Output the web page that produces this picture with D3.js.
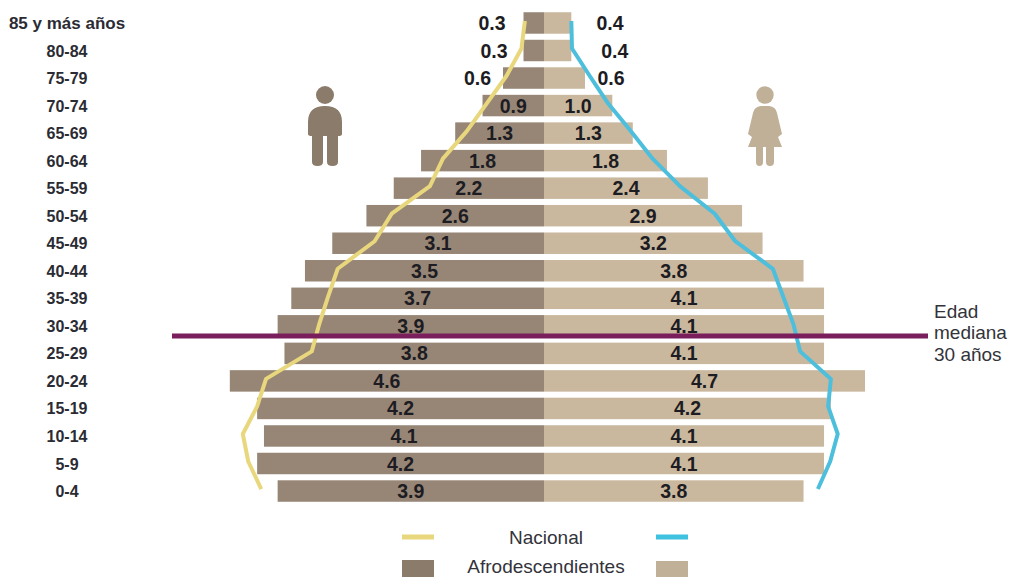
<!DOCTYPE html>
<html><head><meta charset="utf-8">
<script src="https://cdn.jsdelivr.net/npm/d3@7"></script>
<style>html,body{margin:0;background:#fff}svg{display:block}text{font-family:"Liberation Sans",Arial,sans-serif}</style>
</head><body><svg id="c" width="1010" height="577"></svg>
<script>
const ageGroups=["85 y más años","80-84","75-79","70-74","65-69","60-64","55-59","50-54","45-49","40-44","35-39","30-34","25-29","20-24","15-19","10-14","5-9","0-4"];
const afroMen=[0.3,0.3,0.6,0.9,1.3,1.8,2.2,2.6,3.1,3.5,3.7,3.9,3.8,4.6,4.2,4.1,4.2,3.9];
const afroWomen=[0.4,0.4,0.6,1.0,1.3,1.8,2.4,2.9,3.2,3.8,4.1,4.1,4.1,4.7,4.2,4.1,4.1,3.8];
const nationalMen=[0.28,0.33,0.55,0.84,1.13,1.48,1.67,2.23,2.48,3.02,3.16,3.29,3.4,4.07,4.2,4.41,4.33,4.14];
const nationalWomen=[0.40,0.41,0.67,0.94,1.27,1.59,1.99,2.5,2.8,3.35,3.5,3.65,3.75,4.2,4.16,4.3,4.19,4.01];

const svg=d3.select("#c");
const cx=544,k=68.3;
const xL=d3.scaleLinear().domain([0,5]).range([cx,cx-5*k]);
const xR=d3.scaleLinear().domain([0,5]).range([cx,cx+5*k]);
const y=d3.scaleBand().domain(ageGroups).range([9.2,504.8]).paddingInner(.22).paddingOuter(.11);
const mid=a=>y(a)+y.bandwidth()/2;
const DARK="#978676",LIGHT="#c9b89e",ICON_D="#8b7b6b",ICON_L="#bfb097",YEL="#e8d77d",BLUE="#4dbfdc",INK="#1c1c22";

svg.selectAll(".m").data(ageGroups).join("rect").attr("x",(a,i)=>xL(afroMen[i])).attr("y",a=>y(a))
  .attr("width",(a,i)=>cx-xL(afroMen[i])).attr("height",y.bandwidth()).attr("fill",DARK);
svg.selectAll(".w").data(ageGroups).join("rect").attr("x",cx).attr("y",a=>y(a))
  .attr("width",(a,i)=>xR(afroWomen[i])-cx).attr("height",y.bandwidth()).attr("fill",LIGHT);

const outerL=[52,50,66.5],outerR=[66,70.7,67];
svg.selectAll(".ml").data(ageGroups).join("text").attr("text-anchor","middle")
  .attr("x",(a,i)=>i<3?cx-outerL[i]:(xL(afroMen[i])+cx)/2).attr("y",a=>mid(a)+7)
  .attr("font-size",19.5).attr("font-weight","bold").attr("fill",INK).text((a,i)=>afroMen[i].toFixed(1));
svg.selectAll(".wl").data(ageGroups).join("text").attr("text-anchor","middle")
  .attr("x",(a,i)=>i<3?cx+outerR[i]:(xR(afroWomen[i])+cx)/2).attr("y",a=>mid(a)+7)
  .attr("font-size",19.5).attr("font-weight","bold").attr("fill",INK).text((a,i)=>afroWomen[i].toFixed(1));

svg.selectAll(".cat").data(ageGroups).join("text").attr("text-anchor","middle").attr("x",67).attr("y",a=>mid(a)+6)
  .attr("font-size",(a,i)=>i===0?17:16).attr("font-weight","bold").attr("fill","#2b2b33").text(a=>a);

const lineL=d3.line().x((a,i)=>xL(nationalMen[i])).y(a=>mid(a)-2);
const lineR=d3.line().x((a,i)=>xR(nationalWomen[i])).y(a=>mid(a)-2);
svg.append("path").attr("d",lineL(ageGroups)).attr("fill","none").attr("stroke",YEL).attr("stroke-width",4).attr("stroke-linejoin","round");
svg.append("path").attr("d",lineR(ageGroups)).attr("fill","none").attr("stroke",BLUE).attr("stroke-width",4).attr("stroke-linejoin","round");

svg.append("line").attr("x1",172).attr("x2",928).attr("y1",336).attr("y2",336).attr("stroke","#7a1f5c").attr("stroke-width",5);
["Edad","mediana","30 años"].forEach((t,i)=>svg.append("text").attr("x",934).attr("y",317.5+i*21.5).attr("font-size",19).attr("fill","#33333a").text(t));

// icons
const man=svg.append("g").attr("fill",ICON_D);
man.append("circle").attr("cx",325).attr("cy",95).attr("r",9);
man.append("path").attr("d","M308,134V122Q308,106 325,106Q342,106 342,122V134Q342,136 338,136V162Q338,166 332.500,166Q327,166 327,162V136H323V162Q323,166 317.500,166Q312,166 312,162V136Q308,136 308,134Z");
const woman=svg.append("g").attr("fill",ICON_L);
woman.append("circle").attr("cx",765).attr("cy",95).attr("r",8.7);
woman.append("path").attr("d","M761,106H769Q776,107 777,113L782,134L778,137L782,147H774V162Q774,166 770,166Q766,166 766,162V147H763V162Q763,166 759.500,166Q756,166 756,162V147H748L752,137L748,134L753,113Q754,107 761,106Z");

// legend
svg.append("rect").attr("x",402).attr("y",534.500).attr("width",32).attr("height",5).attr("fill",YEL);
svg.append("rect").attr("x",656).attr("y",534.500).attr("width",32).attr("height",5).attr("fill","#3fc1e0");
svg.append("rect").attr("x",402).attr("y",560).attr("width",32).attr("height",17).attr("fill",ICON_D);
svg.append("rect").attr("x",656).attr("y",561).attr("width",32).attr("height",16).attr("fill",ICON_L);
svg.append("text").attr("x",546).attr("y",543.500).attr("text-anchor","middle").attr("font-size",19).attr("fill","#33333a").text("Nacional");
svg.append("text").attr("x",546).attr("y",572.500).attr("text-anchor","middle").attr("font-size",19).attr("fill","#33333a").text("Afrodescendientes");
</script></body></html>
